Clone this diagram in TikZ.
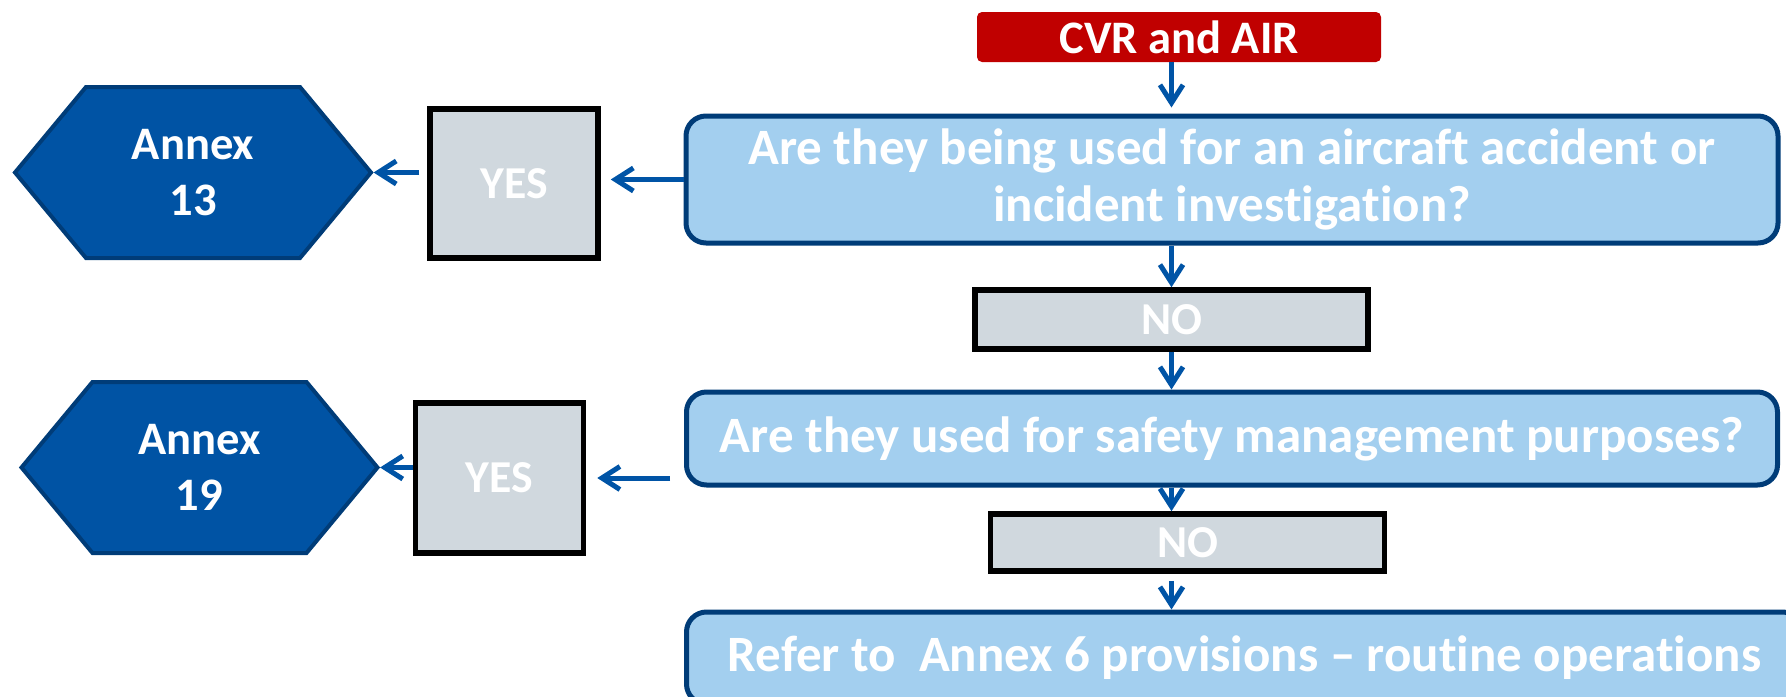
\documentclass[tikz,border=0pt]{standalone}
\usepackage{fontspec}
\setmainfont{Carlito}[Ligatures=NoCommon]
\usetikzlibrary{arrows.meta,shapes.symbols}
\definecolor{qfill}{HTML}{A3CFEF}
\definecolor{qline}{HTML}{003C78}
\definecolor{gfill}{HTML}{D0D8DE}
\definecolor{hexfill}{HTML}{0053A4}
\definecolor{arrblue}{HTML}{0054A6}
\definecolor{cvrred}{HTML}{C00000}
\tikzstyle{question}=[draw=qline, line width=1mm, fill=qfill, rounded corners=4mm, text=white,
font=\bfseries\fontsize{29}{32}\selectfont, align=center, inner sep=0pt]
\tikzstyle{answer}=[draw=black, line width=1.1mm, fill=gfill, text=white,
font=\bfseries\fontsize{26}{30}\selectfont, inner sep=0pt]
\tikzstyle{annex}=[signal, signal to=west and east, signal from=nowhere, signal pointer angle=100.6,
draw=qline, line width=0.8mm, fill=hexfill, text=white, font=\bfseries\fontsize{26.5}{32}\selectfont,
align=center, inner sep=0pt, minimum width=71.2mm, minimum height=34.2mm]
\tikzstyle{source}=[fill=cvrred, rounded corners=1mm, text=white, font=\bfseries\fontsize{26.5}{30}\selectfont,
minimum width=80.8mm, minimum height=10mm, inner sep=0pt]
\tikzstyle{arr}=[draw=arrblue, line width=1mm, -{Straight Barb[length=3.6mm,width=4.6mm]}]

\begin{document}
\begin{tikzpicture}
\useasboundingbox (0,0) rectangle (357.2mm,-139.4mm);

\node (q1) at (246.4mm,-35.9mm) [question, minimum width=218.4mm, minimum height=25.4mm]
  {Are they being used for an aircraft accident or\\incident investigation?};
\node (cvr) at ([xshift=-10.6mm,yshift=28.5mm]q1) [source] {CVR and AIR};
\node (no1) at ([xshift=-12.1mm,yshift=-28mm]q1) [answer, minimum width=78.6mm, minimum height=11.8mm] {NO};
\node (q2) at ([yshift=-51.8mm]q1) [question, minimum width=218.2mm, minimum height=18.6mm]
  {Are they used for safety management purposes?};
\node (no2) at ([xshift=-8.9mm,yshift=-20.8mm]q2) [answer, minimum width=78.8mm, minimum height=11.4mm] {NO};
\node (q3) at ([xshift=2.5mm,yshift=-43.9mm]q2) [question, minimum width=223.2mm, minimum height=18.4mm]
  {Refer to \ Annex 6 provisions – routine operations};

\node (yes1) at ([xshift=-143.6mm,yshift=-0.8mm]q1) [answer, minimum width=33.6mm, minimum height=29.8mm] {YES};
\node (ann13) at ([xshift=-64.2mm,yshift=2.2mm]yes1) [annex] {Annex\\13};
\node (yes2) at ([xshift=-146.5mm,yshift=-7.9mm]q2) [answer, minimum width=33.6mm, minimum height=30mm] {YES};
\node (ann19) at ([xshift=-60mm,yshift=2.1mm]yes2) [annex] {Annex\\19};

% down the right column
\draw[arr, shorten >=1.2mm] (cvr.south -| no1) -- (q1.north -| no1);
\draw[arr] (q1.south -| no1) -- (no1.north);
\draw[arr] (no1.south) -- (q2.north -| no1);
\draw[arr] (q2.south -| no1) -- (no2.north -| no1);
\draw[arr, shorten <=1.4mm] (no2.south -| no1) -- (q3.north -| no1);

% yes branches
\draw[arr, shorten >=2mm] (q1.west) -- (yes1.east |- q1.west);
\draw[arr, shorten <=1.6mm] (yes1.west |- ann13.east) -- (ann13.east);
\draw[arr, shorten <=2.8mm, shorten >=2.2mm] (q2.west |- yes2.east) -- (yes2.east);
\draw[arr] (yes2.west |- ann19.east) -- (ann19.east);

\end{tikzpicture}
\end{document}
